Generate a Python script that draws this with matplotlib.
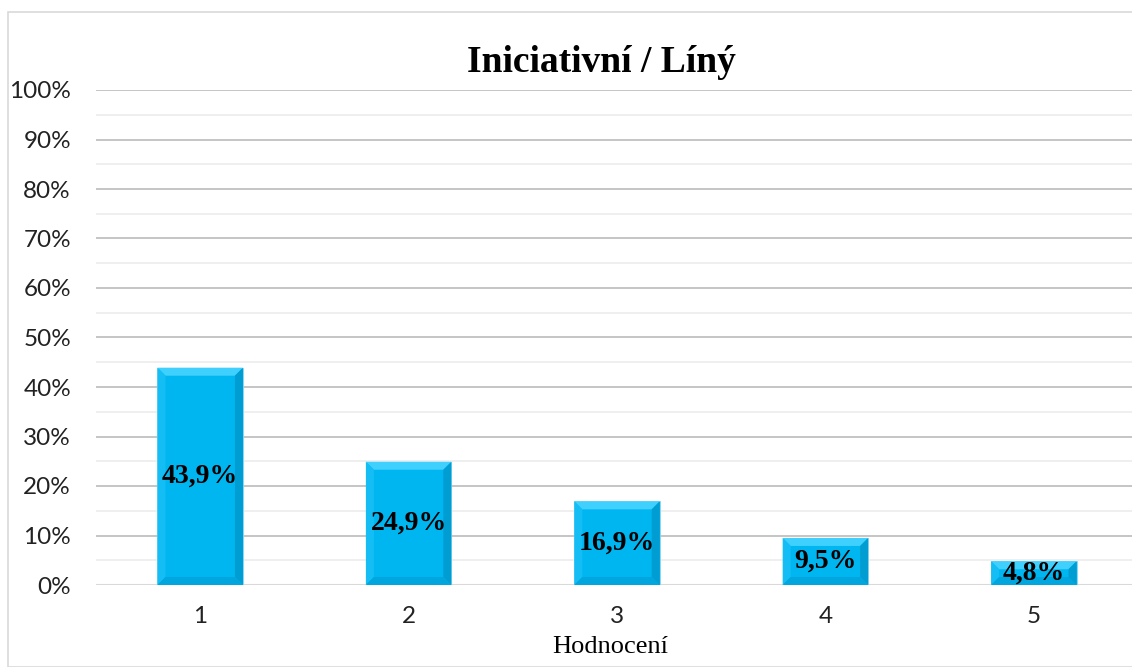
import matplotlib.pyplot as plt
from matplotlib.patches import Polygon, Rectangle
from matplotlib.ticker import FuncFormatter, MultipleLocator

# data
categories = ['1', '2', '3', '4', '5']
shares = [0.439, 0.249, 0.169, 0.095, 0.048]
value_labels = ['43,9%', '24,9%', '16,9%', '9,5%', '4,8%']

W, H, DPI = 1132, 667, 100
fig = plt.figure(figsize=(W / DPI, H / DPI), dpi=DPI)

# outer chart border (runs off the right / bottom edge)
fig.patches.append(Rectangle((8 / W, 0), 1.2, (H - 12) / H, transform=fig.transFigure,
                             fill=False, edgecolor='#d9d9d9', linewidth=1.2))

ax_left, ax_bottom, ax_w, ax_h = 96 / W, 82 / H, 1042 / W, 495 / H
ax = fig.add_axes([ax_left, ax_bottom, ax_w, ax_h])

x = list(range(1, len(categories) + 1))
bars = ax.bar(x, shares, width=0.41, color='#00b6f1', edgecolor='#8fd6ee',
              linewidth=0.6, zorder=3)

ax.set_xlim(0.5, 5.5)
ax.set_ylim(0, 1)

# bevel: ~8 px, converted to data units
bev_x = 8 / (ax_w * W) * 5.0
bev_y = 8 / (ax_h * H) * 1.0
for rect in bars:
    x0, y0 = rect.get_x(), rect.get_y()
    x1, y1 = x0 + rect.get_width(), y0 + rect.get_height()
    bx = bev_x
    by = min(bev_y, rect.get_height() / 2)
    faces = [
        ([(x0, y1), (x1, y1), (x1 - bx, y1 - by), (x0 + bx, y1 - by)], '#3fd0fd'),
        ([(x0, y0), (x0, y1), (x0 + bx, y1 - by), (x0 + bx, y0 + by)], '#14bef5'),
        ([(x1, y0), (x1, y1), (x1 - bx, y1 - by), (x1 - bx, y0 + by)], '#009dd2'),
        ([(x0, y0), (x1, y0), (x1 - bx, y0 + by), (x0 + bx, y0 + by)], '#00a6dd'),
    ]
    for pts, col in faces:
        ax.add_patch(Polygon(pts, closed=True, facecolor=col, edgecolor='none', zorder=4))

for xi, v, lab in zip(x, shares, value_labels):
    ax.text(xi, v / 2, lab, ha='center', va='center', fontsize=20, fontweight='bold',
            family='Liberation Serif', color='black', zorder=5)

# grid
ax.yaxis.set_major_locator(MultipleLocator(0.1))
ax.yaxis.set_minor_locator(MultipleLocator(0.05))
ax.grid(axis='y', which='major', color='#c0c0c0', linewidth=1.3, zorder=0)
ax.grid(axis='y', which='minor', color='#ececec', linewidth=1.2, zorder=0)
ax.axhline(0, color='#d9d9d9', linewidth=1.5, zorder=2)
ax.yaxis.set_major_formatter(FuncFormatter(lambda v, p: f'{v * 100:.0f}%'))

ax.set_xticks(x)
ax.set_xticklabels(categories)
ax.tick_params(axis='both', which='both', length=0)
ax.tick_params(axis='y', pad=18)
ax.tick_params(axis='x', pad=15)
for lab in ax.get_xticklabels() + ax.get_yticklabels():
    lab.set_family('Lato')
    lab.set_fontsize(17.5)
    lab.set_color('#222222')

for s in ax.spines.values():
    s.set_visible(False)

fig.text(601 / W, 1 - 62 / H, 'Iniciativní / Líný', ha='center', va='center',
         fontsize=27, fontweight='bold', family='Liberation Serif')
fig.text(610 / W, 1 - 647 / H, 'Hodnocení', ha='center', va='center',
         fontsize=19, family='Liberation Serif')

fig.savefig('out.png', dpi=DPI)
